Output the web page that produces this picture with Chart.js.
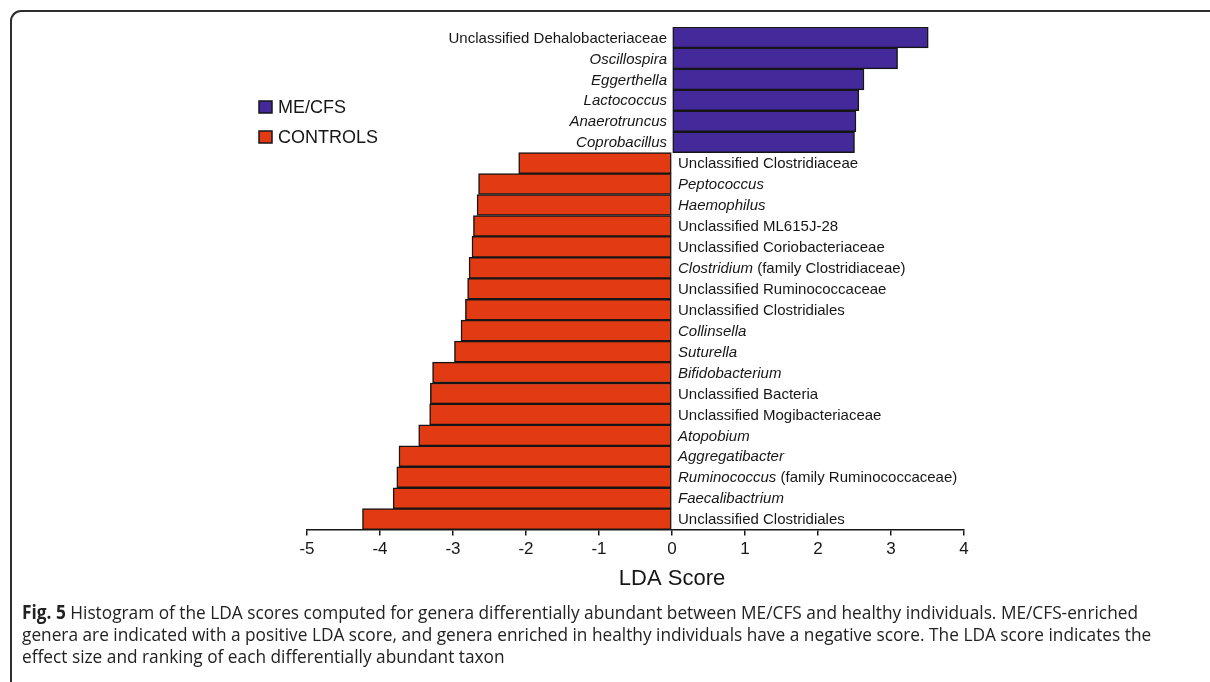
<!DOCTYPE html>
<html>
<head>
<meta charset="utf-8">
<script src="https://cdn.jsdelivr.net/npm/chart.js@4.4.1/dist/chart.umd.min.js"></script>
<style>
  html, body { margin: 0; padding: 0; background: #fff; }
  #page { position: relative; width: 1210px; height: 682px; overflow: hidden; background: #fff; }
  #frame {
    position: absolute; left: 10px; top: 10px; width: 1220px; height: 700px;
    border-top: 2px solid #2e2e2e; border-left: 2px solid #2e2e2e;
    border-top-left-radius: 11px; box-sizing: border-box;
  }
  #chartBox { position: absolute; left: 0; top: 0; width: 1210px; height: 600px; }
  #caption {
    position: absolute; left: 22px; top: 601px;
    font-family: "Open Sans", "Noto Sans", sans-serif; font-size: 19px; color: #222;
    transform-origin: 0 0; white-space: nowrap;
  }
  #caption div { height: 22px; line-height: 22px; }
  #caption b { font-weight: 700; }
</style>
</head>
<body>
<div id="page">
  <div id="frame"></div>
  <div id="chartBox"><canvas id="lda" width="1210" height="600"></canvas></div>
  <div id="caption">
    <div><b>Fig. 5</b> Histogram of the LDA scores computed for genera differentially abundant between ME/CFS and healthy individuals. ME/CFS-enriched</div>
    <div>genera are indicated with a positive LDA score, and genera enriched in healthy individuals have a negative score. The LDA score indicates the</div>
    <div>effect size and ranking of each differentially abundant taxon</div>
  </div>
</div>
<script>
// Taxa enriched in ME/CFS (positive LDA score), top to bottom
const meCfsTaxa = [
  "Unclassified Dehalobacteriaceae", "Oscillospira", "Eggerthella",
  "Lactococcus", "Anaerotruncus", "Coprobacillus"
];
const meCfsScores = [3.51, 3.09, 2.63, 2.56, 2.52, 2.50];

// Taxa enriched in controls (negative LDA score), top to bottom
const controlTaxa = [
  "Unclassified Clostridiaceae", "Peptococcus", "Haemophilus",
  "Unclassified ML615J-28", "Unclassified Coriobacteriaceae",
  "Clostridium (family Clostridiaceae)", "Unclassified Ruminococcaceae",
  "Unclassified Clostridiales", "Collinsella", "Suturella", "Bifidobacterium",
  "Unclassified Bacteria", "Unclassified Mogibacteriaceae", "Atopobium",
  "Aggregatibacter", "Ruminococcus (family Ruminococcaceae)", "Faecalibactrium",
  "Unclassified Clostridiales"
];
const controlScores = [
  -2.10, -2.65, -2.67, -2.72, -2.74, -2.78, -2.80, -2.83, -2.89, -2.98,
  -3.28, -3.31, -3.32, -3.47, -3.74, -3.77, -3.82, -4.24
];

const groupNames = ["ME/CFS", "CONTROLS"];
const groupColors = ["#44299a", "#e23a12"];
const xTicks = [-5, -4, -3, -2, -1, 0, 1, 2, 3, 4];
const axisTitle = "LDA Score";

const labels = meCfsTaxa.concat(controlTaxa);
const meCfsData = labels.map((_, i) => i < meCfsTaxa.length ? meCfsScores[i] : null);
const controlData = labels.map((_, i) => i >= meCfsTaxa.length ? controlScores[i - meCfsTaxa.length] : null);

const INK = "#161616";
const LABEL_FONT = 15;

// Draws a taxon name; genus names are italic, any trailing qualifier stays upright.
function drawTaxon(ctx, name, x, y, align) {
  let parts;
  if (name.startsWith("Unclassified")) {
    parts = [[name, false]];
  } else {
    const sp = name.indexOf(" ");
    parts = sp < 0 ? [[name, true]] : [[name.slice(0, sp), true], [name.slice(sp), false]];
  }
  const fontOf = it => (it ? "italic " : "") + LABEL_FONT + 'px "Liberation Sans", Arial, sans-serif';
  let total = 0;
  parts.forEach(p => { ctx.font = fontOf(p[1]); total += ctx.measureText(p[0]).width; });
  let cx = align === "right" ? x - total : x;
  ctx.textAlign = "left";
  parts.forEach(p => {
    ctx.font = fontOf(p[1]);
    ctx.fillText(p[0], cx, y);
    cx += ctx.measureText(p[0]).width;
  });
}

const annotate = {
  id: "annotate",
  afterDraw(chart) {
    const ctx = chart.ctx;
    const xs = chart.scales.x, ys = chart.scales.y;
    const zero = xs.getPixelForValue(0);
    ctx.save();
    ctx.fillStyle = INK;
    ctx.textBaseline = "middle";
    labels.forEach((name, i) => {
      const y = ys.getPixelForValue(i) + 1;
      const positive = i < meCfsTaxa.length;
      drawTaxon(ctx, name, positive ? zero - 5 : zero + 6, y, positive ? "right" : "left");
    });

    // legend
    const lx = 259, ly = [107, 137];
    groupNames.forEach((g, k) => {
      ctx.fillStyle = groupColors[k];
      ctx.fillRect(lx, ly[k] - 6, 13, 12);
      ctx.strokeStyle = INK;
      ctx.lineWidth = 1.5;
      ctx.strokeRect(lx, ly[k] - 6, 13, 12);
      ctx.fillStyle = INK;
      ctx.font = '18px "Liberation Sans", Arial, sans-serif';
      ctx.textAlign = "left";
      ctx.fillText(g, lx + 19, ly[k] + 1);
    });

    // axis title
    ctx.font = '22px "Liberation Sans", Arial, sans-serif';
    ctx.textAlign = "center";
    ctx.fillText(axisTitle, zero, 579);
    ctx.restore();
  }
};

new Chart(document.getElementById("lda"), {
  type: "bar",
  data: {
    labels: labels,
    datasets: [
      { label: groupNames[0], data: meCfsData, backgroundColor: groupColors[0],
        borderColor: INK, borderWidth: 1.5, borderSkipped: false,
        barPercentage: 1, categoryPercentage: 1 },
      { label: groupNames[1], data: controlData, backgroundColor: groupColors[1],
        borderColor: INK, borderWidth: 1.5, borderSkipped: false,
        barPercentage: 1, categoryPercentage: 1 }
    ]
  },
  options: {
    indexAxis: "y",
    responsive: false,
    animation: false,
    devicePixelRatio: 1,
    layout: { padding: { left: 307, right: 246, top: 27, bottom: 36 } },
    plugins: { legend: { display: false }, tooltip: { enabled: false } },
    scales: {
      y: { display: false, stacked: true },
      x: {
        stacked: true,
        min: xTicks[0], max: xTicks[xTicks.length - 1],
        afterBuildTicks: s => { s.ticks = xTicks.map(v => ({ value: v })); },
        ticks: {
          color: INK, padding: 4,
          font: { family: '"Liberation Sans", Arial, sans-serif', size: 17 }
        },
        grid: { drawOnChartArea: false, drawTicks: true, tickLength: 6, color: INK, lineWidth: 1.5 },
        border: { display: true, color: INK, width: 1.5 }
      }
    }
  },
  plugins: [annotate]
});

// fit the caption to its column width
(function () {
  const cap = document.getElementById("caption");
  const first = cap.firstElementChild;
  const range = document.createRange();
  range.selectNodeContents(first);
  const w = range.getBoundingClientRect().width;
  cap.style.transform = "scaleX(" + (1116 / w) + ")";
})();
</script>
</body>
</html>
